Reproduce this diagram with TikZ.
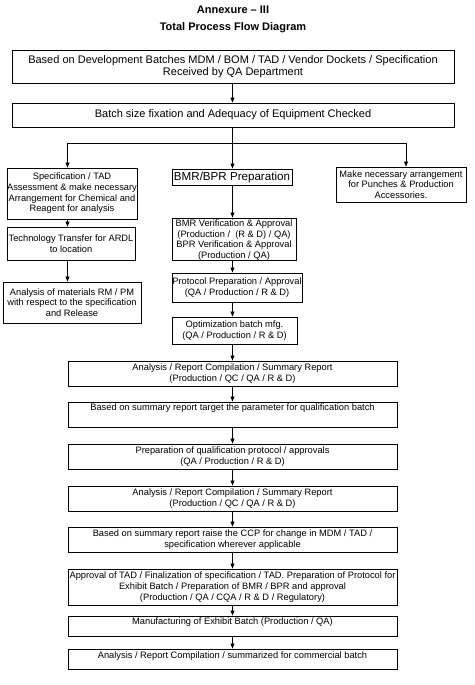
\documentclass[tikz,border=0pt]{standalone}
\usepackage{fontspec}
\setmainfont{Liberation Sans}
\usetikzlibrary{arrows.meta}
\begin{document}
\begin{tikzpicture}[x=1pt,y=-1pt,
  box/.style={draw, line width=0.9pt, inner sep=0pt, align=center, font=\fontsize{9.3}{10.7}\selectfont},
  bigbox/.style={box, font=\fontsize{11}{12}\selectfont},
  ttl/.style={font=\bfseries\fontsize{11}{13}\selectfont, inner sep=0pt},
  conn/.style={line width=0.7pt},
  arr/.style={conn, -{Triangle[length=5pt,width=4pt]}},
]
\useasboundingbox (0,0) rectangle (474,685);

\node[ttl] (t1) at (233,10) {Annexure – III};
\node[ttl] (t2) at (233,28) {Total Process Flow Diagram};

\node[bigbox, minimum width=442pt, minimum height=33pt] (b1) at (233,66.5)
  {Based on Development Batches MDM / BOM / TAD / Vendor Dockets / Specification\\ Received by QA Department};
\node[bigbox, minimum width=442pt, minimum height=24pt] (b2) at (233,115)
  {Batch size fixation and Adequacy of Equipment Checked};

\coordinate (split) at (232.5,143);
\coordinate (splitL) at (67.5,143);
\coordinate (splitR) at (406,143);

% left column
\node[box, minimum width=130pt, minimum height=51pt] (L1) at (72,193.5)
  {Specification / TAD\\ Assessment \& make necessary\\ Arrangement for Chemical and\\ Reagent for analysis};
\node[box, minimum width=128pt, minimum height=33pt] (L2) at (71,243.5)
  {Technology Transfer for ARDL\\ to location};
\node[box, minimum width=138pt, minimum height=41pt] (L3) at (72,302.5)
  {Analysis of materials RM / PM\\ with respect to the specification\\ and Release};

% middle column
\node[box, font=\fontsize{11.6}{13}\selectfont, minimum width=120pt, minimum height=16pt] (M1) at (232,177)
  {BMR/BPR Preparation};
\node[box, minimum width=124pt, minimum height=42pt, text depth=-6pt] (M2) at (234,239)
  {BMR Verification \& Approval\\ (Production /~~(R \& D) / QA)\\ BPR Verification \& Approval\\ (Production / QA)};
\node[box, minimum width=130pt, minimum height=29pt] (M3) at (237,287.5)
  {Protocol Preparation / Approval\\ (QA / Production / R \& D)};
\node[box, minimum width=125pt, minimum height=27pt] (M4) at (234.5,330.5)
  {Optimization batch mfg.\\ (QA / Production / R \& D)};

% right column
\node[box, minimum width=130pt, minimum height=35pt] (R1) at (401,184.5)
  {Make necessary arrangement\\ for Punches \& Production\\ Accessories.};

% wide boxes
\node[box, minimum width=329pt, minimum height=25pt] (W1) at (232.5,373.5)
  {Analysis / Report Compilation / Summary Report\\ (Production / QC / QA / R \& D)};
\node[box, minimum width=329pt, minimum height=25pt] (W2) at (232.5,414.5)
  {Based on summary report target the parameter for qualification batch\\ \strut};
\node[box, minimum width=329pt, minimum height=25pt] (W3) at (232.5,456.5)
  {Preparation of qualification protocol / approvals\\ (QA / Production / R \& D)};
\node[box, minimum width=329pt, minimum height=25pt] (W4) at (232.5,498.5)
  {Analysis / Report Compilation / Summary Report\\ (Production / QC / QA / R \& D)};
\node[box, minimum width=329pt, minimum height=25pt] (W5) at (232.5,539.5)
  {Based on summary report raise the CCP for change in MDM / TAD /\\ specification wherever applicable};
\node[box, minimum width=329pt, minimum height=36pt] (W6) at (232.5,587)
  {Approval of TAD / Finalization of specification / TAD. Preparation of Protocol for\\ Exhibit Batch / Preparation of BMR / BPR and approval\\ (Production / QA / CQA / R \& D / Regulatory)};
\node[box, minimum width=329pt, minimum height=20pt, text depth=10pt] (W7) at (232.5,626)
  {Manufacturing of Exhibit Batch (Production / QA)};
\node[box, minimum width=329pt, minimum height=20pt, text depth=8pt] (W8) at (232.5,659)
  {Analysis / Report Compilation / summarized for commercial batch};

% connectors
\draw[arr] (b1.south -| split) -- (b2.north -| split);
\draw[conn] (b2.south -| split) -- (split);
\draw[conn] (splitL) -- (splitR);
\draw[arr] (split) -- (M1.north -| split);
\draw[arr] (splitL) -- (L1.north -| splitL);
\draw[arr] (splitR) -- (R1.north -| splitR);

\draw[arr] (L1.south -| splitL) -- (L2.north -| splitL);
\draw[arr] (L2.south -| splitL) -- (L3.north -| splitL);

\draw[arr] (M1.south -| split) -- (M2.north -| split);
\draw[arr] (M2.south -| split) -- (M3.north -| split);
\draw[arr] (M3.south -| split) -- (M4.north -| split);
\draw[arr] (M4.south -| split) -- (W1.north -| split);
\draw[arr] (W1.south -| split) -- (W2.north -| split);
\draw[arr] (W2.south -| split) -- (W3.north -| split);
\draw[arr] (W3.south -| split) -- (W4.north -| split);
\draw[arr] (W4.south -| split) -- (W5.north -| split);
\draw[arr] (W5.south -| split) -- (W6.north -| split);
\draw[arr] (W6.south -| split) -- (W7.north -| split);
\draw[arr] (W7.south -| split) -- (W8.north -| split);
\end{tikzpicture}
\end{document}
